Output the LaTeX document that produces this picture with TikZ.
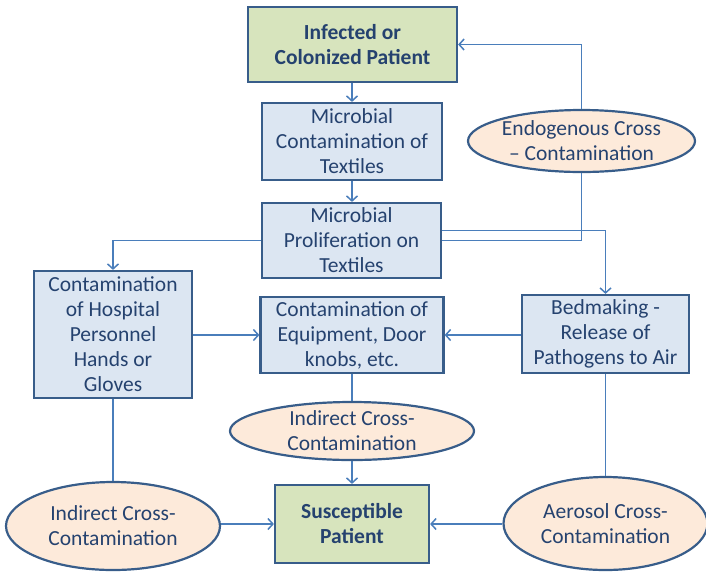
\documentclass[tikz,border=0pt]{standalone}
\usepackage{fontspec}
\setmainfont{Carlito}
\usepackage{xcolor}
\usetikzlibrary{shapes.geometric,arrows.meta,positioning}

\definecolor{txtblue}{HTML}{25426F}
\definecolor{edgeblue}{HTML}{385D8A}
\definecolor{lineblue}{HTML}{4A7EBB}
\definecolor{boxfill}{HTML}{DCE6F2}
\definecolor{greenfill}{HTML}{D7E4BD}
\definecolor{peachfill}{HTML}{FDEADA}

\tikzset{
  base/.style={draw=edgeblue, line width=2.2pt, text=txtblue, align=center, inner sep=0pt,
    font=\fontsize{21.5}{25}\selectfont},
  stepbox/.style={base, rectangle, fill=boxfill},
  patbox/.style={base, rectangle, fill=greenfill, font=\fontsize{21.5}{25}\selectfont\bfseries},
  route/.style={base, ellipse, fill=peachfill},
  conn/.style={draw=lineblue, line width=1.5pt},
  arr/.style={conn, -{Straight Barb[length=5pt,width=11pt,line width=1.5pt]}}
}

\begin{document}
\begin{tikzpicture}[x=1pt,y=-1pt]
\useasboundingbox (0,0) rectangle (706,571);

% source and textiles
\node[patbox, minimum width=209pt, minimum height=75pt] (infected) at (352.5,44.5) {Infected or\\Colonized Patient};
\node[stepbox, minimum width=180pt, minimum height=77pt] (microbial) at (352,141.5) {Microbial\\Contamination of\\Textiles};
\node[stepbox, minimum width=179pt, minimum height=75pt] (prolif) at (351.5,240.5) {Microbial\\Proliferation on\\Textiles};
\node[route, minimum width=227pt, minimum height=62pt] (endo) at (581.5,141) {Endogenous Cross\\– Contamination};

% spread
\node[stepbox, minimum width=158pt, minimum height=127pt] (hosp) at (113,334.5) {Contamination\\of Hospital\\Personnel\\Hands or\\Gloves};
\node[stepbox, minimum width=183pt, minimum height=76pt] (equip) at (352,335) {Contamination of\\Equipment, Door\\knobs, etc.};
\node[stepbox, minimum width=167pt, minimum height=78pt] (bed) at (605.5,334) {Bedmaking -\\Release of\\Pathogens to Air};

% routes to the patient
\node[route, minimum width=244pt, minimum height=58pt] (midind) at (352,431) {Indirect Cross-\\Contamination};
\node[route, minimum width=214pt, minimum height=88pt] (leftind) at (113,526) {Indirect Cross-\\Contamination};
\node[route, minimum width=204pt, minimum height=93pt] (aero) at (605.5,523.5) {Aerosol Cross-\\Contamination};
\node[patbox, minimum width=154pt, minimum height=78pt] (susc) at (352,524) {Susceptible\\Patient};

\draw[arr] (infected.south -| microbial) -- (microbial);
\draw[arr] (microbial) -- (microbial |- prolif.north);
\draw[conn] (prolif.east) -| (endo.south);
\draw[arr] (endo.north) |- (infected.east);
\draw[arr] (prolif.west) -| (hosp.north);
\draw[arr] ([yshift=10pt]prolif.east) -| (bed.north);

\draw[arr] (equip.west -| hosp.east) -- (equip.west);
\draw[arr] (equip.east -| bed.west) -- (equip.east);
\draw[conn] (equip.south) -- (midind.north);
\draw[arr] (midind.south) -- (susc.north);
\draw[conn] (hosp.south) -- (leftind.north);
\draw[arr] (susc.west -| leftind.east) -- (susc.west);
\draw[conn] (bed.south) -- (aero.north);
\draw[arr] (susc.east -| aero.west) -- (susc.east);

\end{tikzpicture}
\end{document}
